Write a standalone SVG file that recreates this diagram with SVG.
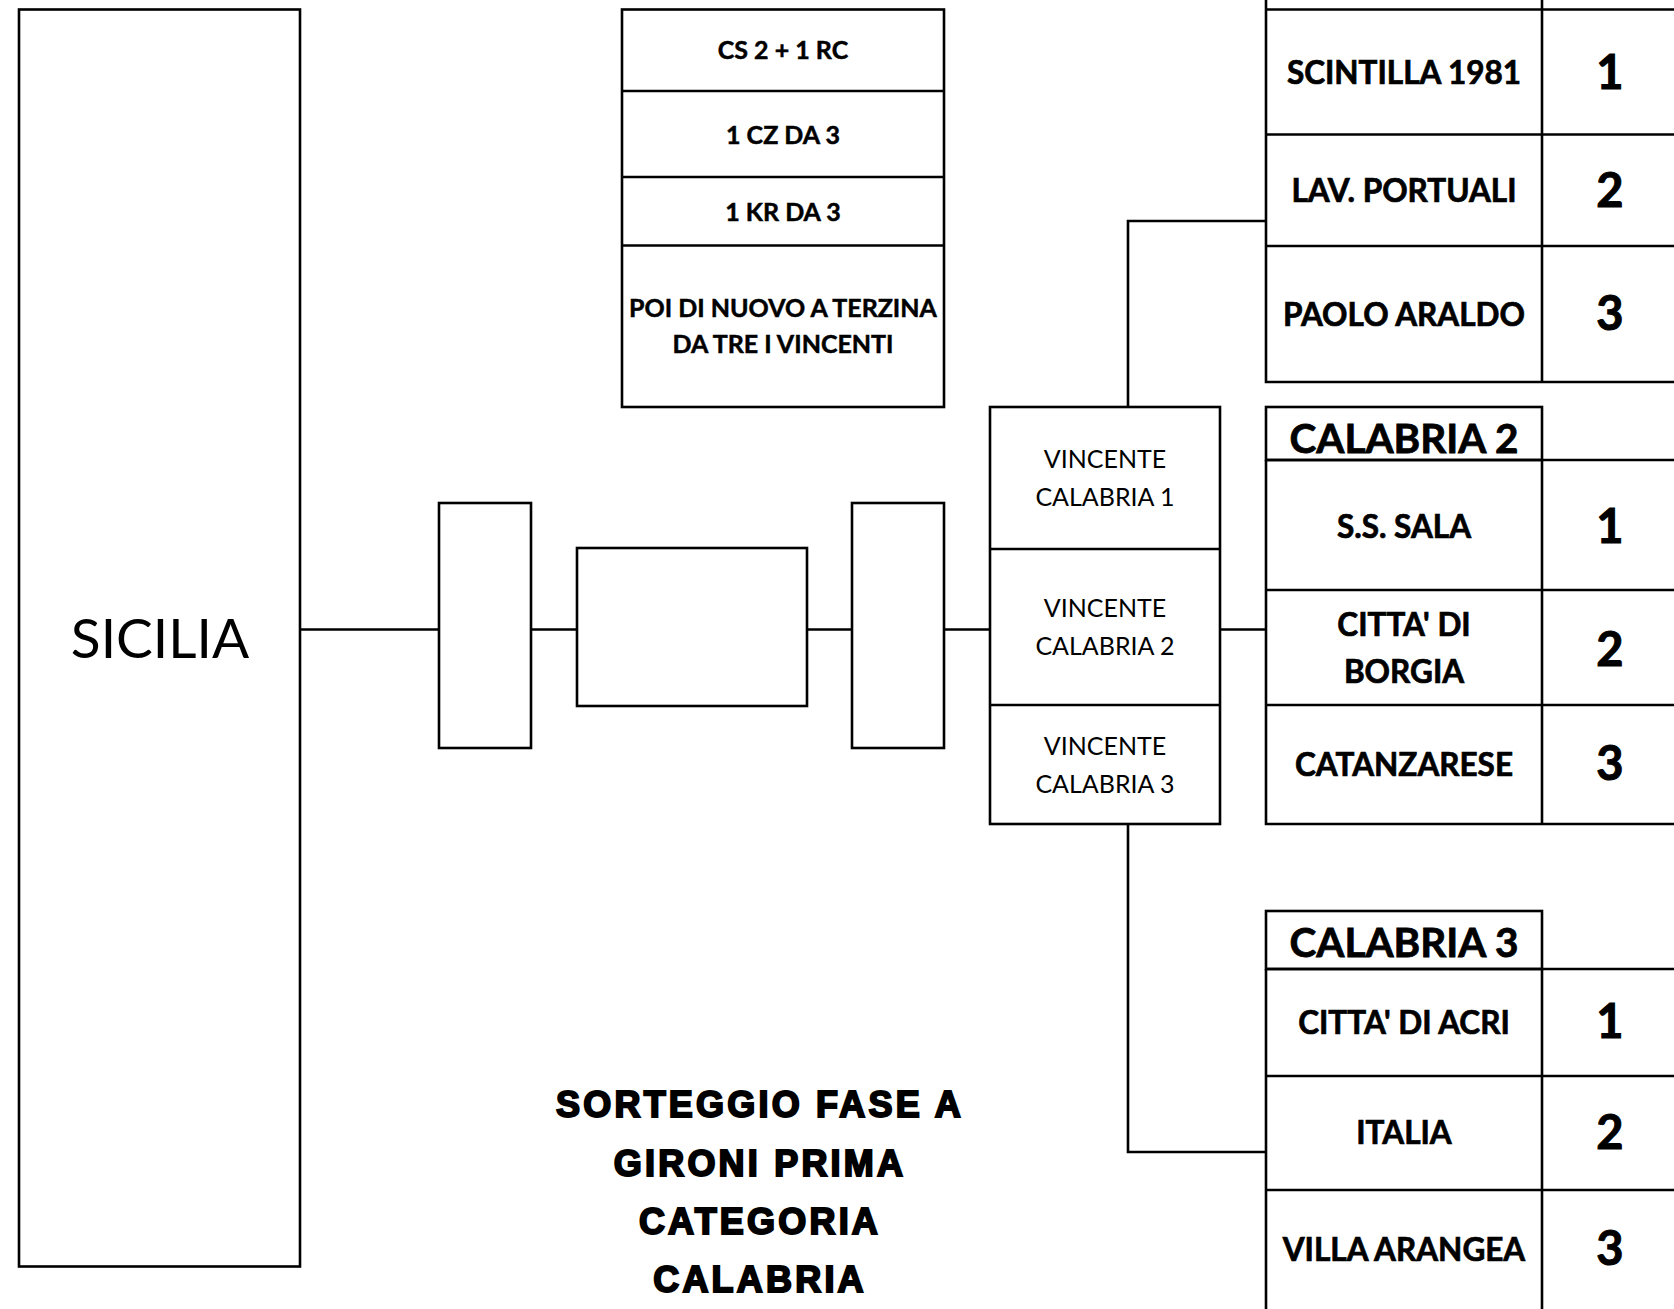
<svg xmlns="http://www.w3.org/2000/svg" width="1674" height="1309" viewBox="0 0 1674 1309">
<style>
.b{fill:#fff;stroke:#000;stroke-width:2.6}
.l{fill:none;stroke:#000;stroke-width:2.6}
text{font-family:Lato,"Liberation Sans",sans-serif;fill:#000;text-anchor:middle}
.n{font-weight:bold;font-size:31.5px;stroke:#000;stroke-width:0.7}
.num{font-weight:bold;font-size:47px;stroke:#000;stroke-width:1}
.h{font-weight:bold;font-size:40.5px;stroke:#000;stroke-width:0.8}
.c{font-weight:bold;font-size:25px;stroke:#000;stroke-width:0.5}
.v{font-size:25px}
.t{font-family:"Liberation Sans",Arial,sans-serif;font-weight:bold;font-size:36px;letter-spacing:3.2px;stroke:#000;stroke-width:2}
</style>
<rect width="1674" height="1309" fill="#fff"/>
<g id="connectors">
<path class="l" d="M300 629.5H439M531 629.5H577M807 629.5H852M944 629.5H990M1220 629.5H1266"/>
<path class="l" d="M1128 407V221H1266"/>
<path class="l" d="M1128 824V1152H1266"/>
</g>
<g id="sicilia">
<rect class="b" x="19" y="9.5" width="281" height="1257"/>
<text x="160" y="658" style="font-size:55px">SICILIA</text>
</g>
<g id="box-a"><rect class="b" x="439" y="503" width="92" height="245"/></g>
<g id="box-b"><rect class="b" x="577" y="548" width="230" height="158"/></g>
<g id="box-c"><rect class="b" x="852" y="503" width="92" height="245"/></g>
<g id="note">
<rect class="b" x="622" y="9.5" width="322" height="397.5"/>
<path class="l" d="M622 91H944M622 177H944M622 245.5H944"/>
<text class="c" x="783" y="59">CS 2 + 1 RC</text>
<text class="c" x="783" y="144">1 CZ DA 3</text>
<text class="c" x="783" y="221">1 KR DA 3</text>
<text class="c" x="783" y="317">POI DI NUOVO A TERZINA</text>
<text class="c" x="783" y="353">DA TRE I VINCENTI</text>
</g>
<g id="vincenti">
<rect class="b" x="990" y="407" width="230" height="417"/>
<path class="l" d="M990 549H1220M990 705H1220"/>
<text class="v" x="1105" y="468">VINCENTE</text>
<text class="v" x="1105" y="506">CALABRIA 1</text>
<text class="v" x="1105" y="617">VINCENTE</text>
<text class="v" x="1105" y="655">CALABRIA 2</text>
<text class="v" x="1105" y="755">VINCENTE</text>
<text class="v" x="1105" y="793">CALABRIA 3</text>
</g>
<g id="calabria1">
<path class="l" d="M1266 -5V382H1680M1542 -5V382M1266 9.5H1680M1266 134.5H1680M1266 246H1680"/>
<text class="n" x="1404" y="84">SCINTILLA 1981</text>
<text class="n" x="1404" y="202">LAV. PORTUALI</text>
<text class="n" x="1404" y="326">PAOLO ARALDO</text>
<text class="num" x="1610" y="89">1</text>
<text class="num" x="1610" y="207">2</text>
<text class="num" x="1610" y="330">3</text>
</g>
<g id="calabria2">
<rect class="b" x="1266" y="407" width="276" height="53"/>
<path class="l" d="M1266 460V824H1680M1542 460V824M1266 460H1680M1266 590H1680M1266 705H1680"/>
<text class="h" x="1404" y="453">CALABRIA 2</text>
<text class="n" x="1404" y="538">S.S. SALA</text>
<text class="n" x="1404" y="636">CITTA' DI</text>
<text class="n" x="1404" y="683">BORGIA</text>
<text class="n" x="1404" y="776">CATANZARESE</text>
<text class="num" x="1610" y="543">1</text>
<text class="num" x="1610" y="666">2</text>
<text class="num" x="1610" y="780">3</text>
</g>
<g id="calabria3">
<rect class="b" x="1266" y="911" width="276" height="58"/>
<path class="l" d="M1266 969V1320M1542 969V1320M1266 969H1680M1266 1076H1680M1266 1190H1680"/>
<text class="h" x="1404" y="957">CALABRIA 3</text>
<text class="n" x="1404" y="1034">CITTA' DI ACRI</text>
<text class="n" x="1404" y="1144">ITALIA</text>
<text class="n" x="1404" y="1261">VILLA ARANGEA</text>
<text class="num" x="1610" y="1038">1</text>
<text class="num" x="1610" y="1149">2</text>
<text class="num" x="1610" y="1265">3</text>
</g>
<g id="title">
<text class="t" x="760" y="1117">SORTEGGIO FASE A</text>
<text class="t" x="760" y="1176">GIRONI PRIMA</text>
<text class="t" x="760" y="1234">CATEGORIA</text>
<text class="t" x="760" y="1292">CALABRIA</text>
</g>
</svg>
